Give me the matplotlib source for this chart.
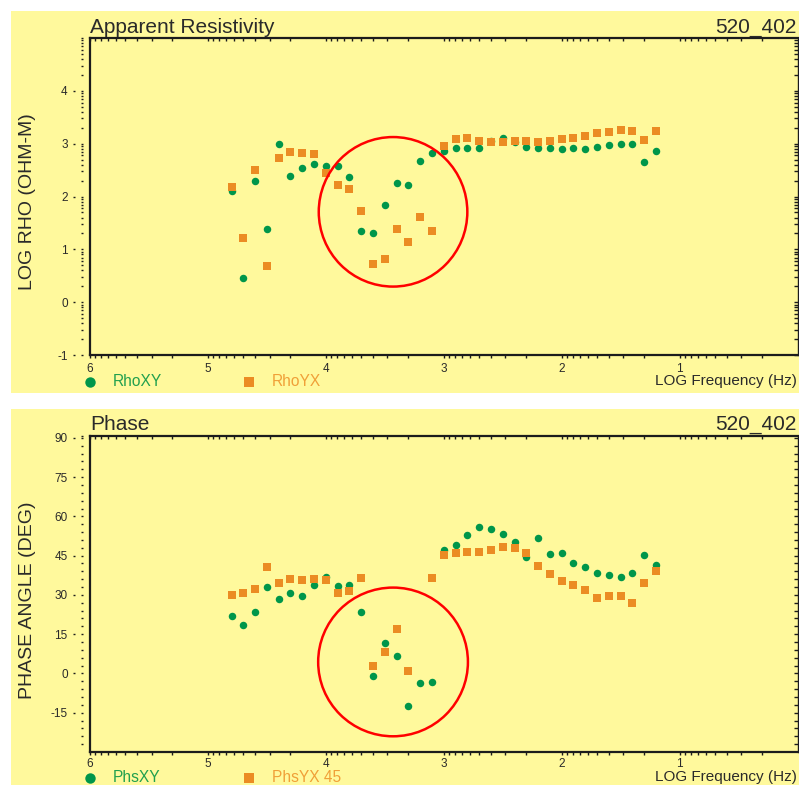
import numpy as np
import matplotlib

matplotlib.use('Agg')
import matplotlib.pyplot as plt
from matplotlib.patches import Rectangle, Ellipse
from matplotlib.lines import Line2D
from matplotlib.markers import TICKDOWN
from matplotlib.transforms import ScaledTranslation

plt.rcParams['font.family'] = ['Liberation Sans', 'DejaVu Sans']

# ------------------------------------------------------------
# site 520_402 : sounding data (log10 frequency, Hz)
# ------------------------------------------------------------
log_freq = [4.8, 4.7, 4.6, 4.5, 4.4, 4.3, 4.2, 4.1, 4.0, 3.9, 3.8, 3.7, 3.6,
            3.5, 3.4, 3.3, 3.2, 3.1, 3.0, 2.9, 2.8, 2.7, 2.6, 2.5, 2.4, 2.3,
            2.2, 2.1, 2.0, 1.9, 1.8, 1.7, 1.6, 1.5, 1.4, 1.3, 1.2]

rho_xy = [2.10, 0.45, 2.29, 1.39, 2.99, 2.39, 2.53, 2.61, 2.57, 2.57, 2.37,
          1.34, 1.31, 1.83, 2.25, 2.22, 2.67, 2.83, 2.86, 2.91, 2.92, 2.91,
          3.05, 3.10, 3.04, 2.94, 2.92, 2.91, 2.90, 2.91, 2.90, 2.94, 2.98,
          3.00, 3.00, 2.65, 2.87]

rho_yx = [2.18, 1.22, 2.50, 0.69, 2.72, 2.84, 2.82, 2.80, 2.44, 2.21, 2.15,
          1.72, 0.73, 0.81, 1.39, 1.13, 1.62, 1.34, 2.95, 3.08, 3.10, 3.05,
          3.03, 3.03, 3.05, 3.05, 3.03, 3.05, 3.08, 3.10, 3.14, 3.20, 3.22,
          3.25, 3.24, 3.06, 3.24]

phs_xy = [21.9, 18.4, 23.6, 33.1, 28.6, 30.9, 29.6, 33.6, 37.0, 33.5, 33.6,
          23.5, -0.8, 11.8, 6.7, -12.6, -3.5, -3.2, 47.0, 48.9, 52.9, 55.9,
          55.3, 53.3, 50.3, 44.4, 51.7, 45.5, 46.0, 42.2, 40.6, 38.5, 37.5,
          36.8, 38.3, 45.4, 41.3]

# no PhsYX value at 10^3.2 Hz
phs_yx = [29.9, 30.7, 32.2, 40.6, 34.5, 36.0, 35.6, 36.0, 35.6, 30.7, 31.5,
          36.4, 2.9, 8.3, 17.0, 1.0, np.nan, 36.4, 45.3, 45.9, 46.3, 46.3,
          47.0, 48.2, 47.8, 45.9, 41.0, 37.9, 35.3, 33.7, 31.8, 28.8, 29.6,
          29.6, 26.9, 34.5, 39.1]

x_major = [6, 5, 4, 3, 2, 1]
rho_major = [-1, 0, 1, 2, 3, 4]
phs_major = [-15, 0, 15, 30, 45, 60, 75, 90]

# anomaly zone: (centre log f, centre value, width, height)
rho_zone = (3.43, 1.71, 1.26, 2.83)
phs_zone = (3.43, 4.4, 1.27, 56.8)

YELLOW = '#FFF99C'
GREEN = '#00964A'
ORANGE = '#EB8C23'
GREEN_TXT = '#22A04E'
ORANGE_TXT = '#F0A038'
DARK = '#1c1c1c'
TXT = '#2a2a2a'

W, H = 799, 785
fig = plt.figure(figsize=(W / 100, H / 100), dpi=100, facecolor='white')


def fx(x):
    return x / W


def fy(y):
    return 1 - y / H


# yellow panel backgrounds
for top, bot in [(11, 393), (409, 785)]:
    fig.patches.append(Rectangle((fx(11), fy(bot)), fx(788), (bot - top) / H,
                                 transform=fig.transFigure, facecolor=YELLOW,
                                 edgecolor='none', zorder=-5))

ax1 = fig.add_axes([fx(90), fy(355), 707.5 / W, (355 - 38) / H])
ax2 = fig.add_axes([fx(90), fy(752), 707.5 / W, (752 - 436) / H])

x_minor = [d + np.log10(k) for d in range(0, 6) for k in range(2, 10)]
rho_minor = [d + np.log10(k) for d in range(-1, 5) for k in range(2, 10)]
phs_minor = [v for v in range(-30, 91, 3) if v % 15 != 0]


def style_axes(ax, ylim, ymaj, ymin, xpad):
    ax.set_facecolor(YELLOW)
    ax.set_xlim(6, 0)
    ax.set_ylim(*ylim)
    for s in ['left', 'bottom', 'top']:
        ax.spines[s].set_linewidth(1.6)
        ax.spines[s].set_color(DARK)
    ax.spines['right'].set_linewidth(1.0)
    ax.spines['right'].set_color(DARK)

    ax.set_xticks(x_major)
    ax.set_xticklabels([str(v) for v in x_major])
    ax.set_xticks(x_minor, minor=True)
    ax.tick_params(axis='x', which='both', direction='out', length=2,
                   width=1, color=DARK, top=False, labelsize=8.5,
                   labelcolor=TXT, pad=xpad)

    # small inward ticks hanging from the top spine
    ax.plot(x_minor + x_major, [1] * (len(x_minor) + len(x_major)), ls='none',
            marker=TICKDOWN, ms=2.5, mew=1, color=DARK,
            transform=ax.get_xaxis_transform(), clip_on=False)

    ax.set_yticks(ymaj)
    ax.set_yticklabels([str(v) for v in ymaj])
    ax.set_yticks(ymin, minor=True)
    ax.tick_params(axis='y', which='both', left=False, right=True,
                   direction='in', length=3, width=1, color=DARK,
                   labelsize=8.5, labelcolor=TXT, pad=16)

    # detached dotted tick column to the left of the spine
    col = ax.get_yaxis_transform() + ScaledTranslation(-8 / 100, 0, fig.dpi_scale_trans)
    allt = sorted(set(list(ymaj) + list(ymin) + [ylim[1]]))
    allt = [t for t in allt if t <= ylim[1]]
    ax.plot([0] * len(allt), allt, ls='none', marker='_', ms=2, mew=1,
            color=DARK, transform=col, clip_on=False)
    dot = ax.get_yaxis_transform() + ScaledTranslation(-16.5 / 100, 0, fig.dpi_scale_trans)
    ax.plot([0] * len(ymaj), ymaj, ls='none', marker='_', ms=1.5, mew=1,
            color=DARK, transform=dot, clip_on=False)


style_axes(ax1, (-1, 5), rho_major, rho_minor, 4)
style_axes(ax2, (-30, 90.7), phs_major, phs_minor, 2.5)

# data
ax1.plot(log_freq, rho_xy, ls='none', marker='o', ms=5.4, mew=0, color=GREEN, zorder=3)
ax1.plot(log_freq, rho_yx, ls='none', marker='s', ms=5.4, mew=0, color=ORANGE, zorder=4)
ax2.plot(log_freq, phs_xy, ls='none', marker='o', ms=5.4, mew=0, color=GREEN, zorder=3)
ax2.plot(log_freq, phs_yx, ls='none', marker='s', ms=5.4, mew=0, color=ORANGE, zorder=4)

for ax, (cx, cy, w, h) in [(ax1, rho_zone), (ax2, phs_zone)]:
    ax.add_patch(Ellipse((cx, cy), w, h, fill=False, edgecolor='#FF0000',
                         lw=1.8, zorder=5))

# titles and labels
fig.text(fx(90), fy(33), 'Apparent Resistivity', fontsize=15, color=TXT,
         ha='left', va='baseline')
fig.text(fx(797), fy(33), '520_402', fontsize=15, color=TXT,
         ha='right', va='baseline')
fig.text(fx(90), fy(430), 'Phase', fontsize=15, color=TXT,
         ha='left', va='baseline')
fig.text(fx(797), fy(430), '520_402', fontsize=15, color=TXT,
         ha='right', va='baseline')

fig.text(fx(28), fy(202), 'LOG RHO (OHM-M)', fontsize=14, color=TXT,
         rotation=90, ha='center', va='center')
fig.text(fx(28), fy(600), 'PHASE ANGLE (DEG)', fontsize=14, color=TXT,
         rotation=90, ha='center', va='center')

for base, names in [(386, ('RhoXY', 'RhoYX')), (782, ('PhsXY', 'PhsYX 45'))]:
    fig.add_artist(Line2D([fx(90)], [fy(base - 4.5)], marker='o', ms=7.5, mew=0,
                          color=GREEN, transform=fig.transFigure))
    fig.add_artist(Line2D([fx(249)], [fy(base - 4.5)], marker='s', ms=7.2, mew=0,
                          color=ORANGE, transform=fig.transFigure))
    fig.text(fx(113), fy(base), names[0], fontsize=11.2, color=GREEN_TXT,
             ha='left', va='baseline')
    fig.text(fx(272), fy(base), names[1], fontsize=11.2, color=ORANGE_TXT,
             ha='left', va='baseline')
    fig.text(fx(797), fy(base - 1), 'LOG Frequency (Hz)', fontsize=11, color=TXT,
             ha='right', va='baseline')

fig.savefig('out.png', dpi=100, facecolor='white')
